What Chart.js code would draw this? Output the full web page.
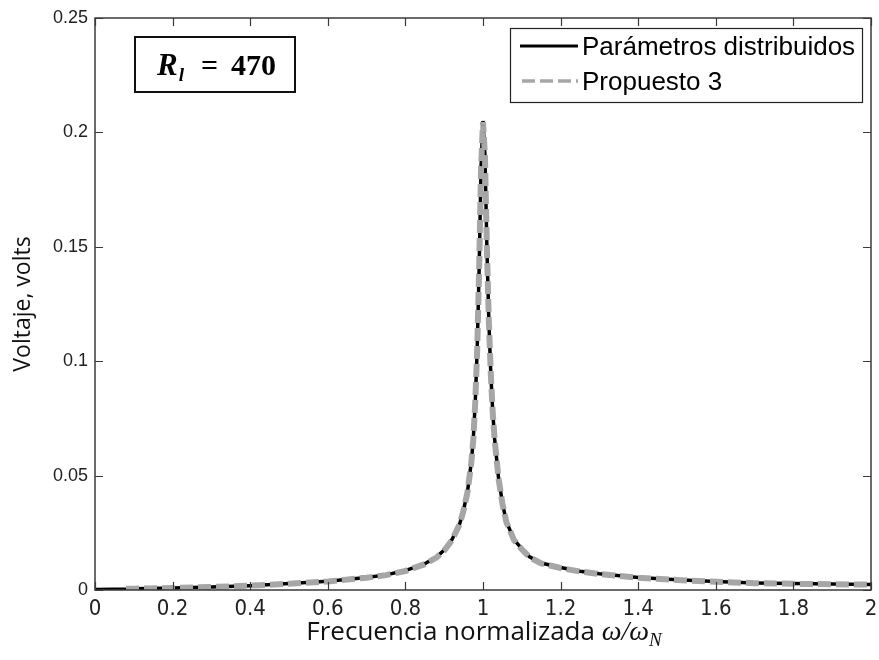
<!DOCTYPE html>
<html>
<head>
<meta charset="utf-8">
<script src="https://cdn.jsdelivr.net/npm/chart.js@4.4.1/dist/chart.umd.min.js"></script>
<style>
html,body{margin:0;padding:0;background:#fff;}
#wrap{width:879px;height:660px;}
</style>
</head>
<body>
<div id="wrap"><canvas id="c" width="879" height="660"></canvas></div>
<script>
// ---- data ----
const freq = [0, 0.05, 0.08, 0.1, 0.2, 0.3, 0.4, 0.5, 0.6, 0.7, 0.75, 0.8, 0.85, 0.88, 0.9, 0.92, 0.94, 0.95, 0.96, 0.97, 0.975, 0.98, 0.985, 0.99, 0.995, 1.0, 1.005, 1.01, 1.015, 1.02, 1.025, 1.03, 1.04, 1.05, 1.06, 1.08, 1.1, 1.12, 1.15, 1.2, 1.25, 1.3, 1.4, 1.5, 1.6, 1.7, 1.8, 1.9, 2.0];
const voltsDistribuidos = [0.0002, 0.0003, 0.0004, 0.0006, 0.0009, 0.0013, 0.0019, 0.0028, 0.0038, 0.0055, 0.0066, 0.0085, 0.0115, 0.0144, 0.0175, 0.022, 0.029, 0.035, 0.043, 0.056, 0.066, 0.082, 0.105, 0.14, 0.185, 0.205, 0.19, 0.15, 0.118, 0.095, 0.078, 0.066, 0.049, 0.038, 0.030, 0.022, 0.018, 0.0145, 0.0118, 0.0098, 0.0082, 0.0071, 0.0055, 0.0045, 0.0037, 0.0031, 0.0028, 0.0026, 0.0024];
const voltsPropuesto3 = [null, null, 0.0005, 0.0006, 0.0009, 0.0013, 0.0019, 0.0027, 0.0037, 0.0054, 0.0065, 0.0083, 0.0113, 0.0142, 0.0172, 0.0218, 0.0288, 0.0348, 0.0428, 0.0558, 0.0658, 0.0818, 0.1048, 0.1398, 0.1848, 0.2045, 0.1898, 0.1498, 0.1178, 0.0948, 0.0778, 0.0658, 0.0488, 0.0378, 0.0298, 0.0218, 0.0178, 0.0143, 0.0116, 0.0096, 0.0081, 0.0070, 0.0054, 0.0044, 0.0036, 0.0030, 0.0027, 0.0025, 0.0024];
const seriesNames = ['Parámetros distribuidos', 'Propuesto 3'];
const xTickValues = [0, 0.2, 0.4, 0.6, 0.8, 1, 1.2, 1.4, 1.6, 1.8, 2];
const xTickLabels = ['0', '0.2', '0.4', '0.6', '0.8', '1', '1.2', '1.4', '1.6', '1.8', '2'];
const yTickValues = [0, 0.05, 0.1, 0.15, 0.2, 0.25];
const yTickLabels = ['0', '0.05', '0.1', '0.15', '0.2', '0.25'];
const yTitle = 'Voltaje, volts';
const xTitleText = 'Frecuencia normalizada ';
const annotationValue = '470';

const toPts = (xs, ys) => xs.map((x, i) => ({x: x, y: ys[i]}));
function labelFor(values, labels, v) {
  for (let i = 0; i < values.length; i++) if (Math.abs(values[i] - v) < 1e-9) return labels[i];
  return '';
}

const frameColor = '#3a3a3a';
const grayColor = '#a6a6a6';

const decorPlugin = {
  id: 'decor',
  afterDatasetsDraw(chart) {
    const ctx = chart.ctx, a = chart.chartArea;
    const xs = chart.scales.x, ys = chart.scales.y;
    ctx.save();
    // frame
    ctx.strokeStyle = frameColor;
    ctx.lineWidth = 1.5;
    ctx.strokeRect(a.left, a.top, a.right - a.left, a.bottom - a.top);
    // inward ticks on all four sides
    ctx.lineWidth = 1.2;
    const tl = 8;
    ctx.beginPath();
    xs.ticks.forEach(t => {
      const px = Math.round(xs.getPixelForValue(t.value)) + 0.5;
      ctx.moveTo(px, a.bottom); ctx.lineTo(px, a.bottom - tl);
      ctx.moveTo(px, a.top); ctx.lineTo(px, a.top + tl);
    });
    ys.ticks.forEach(t => {
      const py = Math.round(ys.getPixelForValue(t.value)) + 0.5;
      ctx.moveTo(a.left, py); ctx.lineTo(a.left + tl, py);
      ctx.moveTo(a.right, py); ctx.lineTo(a.right - tl, py);
    });
    ctx.stroke();

    // legend box
    const lx = 510, ly = 28, lw = 352, lh = 74;
    ctx.fillStyle = '#fff';
    ctx.fillRect(lx, ly, lw, lh);
    ctx.strokeStyle = '#222';
    ctx.lineWidth = 1.2;
    ctx.strokeRect(lx + 0.5, ly + 0.5, lw, lh);
    const ds = chart.data.datasets;
    ctx.strokeStyle = ds[0].borderColor;
    ctx.lineWidth = 3;
    ctx.setLineDash([]);
    ctx.beginPath(); ctx.moveTo(520, 46); ctx.lineTo(578, 46); ctx.stroke();
    ctx.strokeStyle = ds[1].borderColor;
    ctx.lineWidth = 3.5;
    ctx.setLineDash([13, 5]);
    ctx.beginPath(); ctx.moveTo(522, 81); ctx.lineTo(578, 81); ctx.stroke();
    ctx.setLineDash([]);
    ctx.fillStyle = '#000';
    ctx.font = '26px "Liberation Sans", Arial, sans-serif';
    ctx.textBaseline = 'middle';
    ctx.textAlign = 'left';
    ctx.fillText(ds[0].label, 582, 48);
    ctx.fillText(ds[1].label, 582, 83);

    // R_l annotation box
    ctx.strokeStyle = '#111';
    ctx.lineWidth = 2;
    ctx.strokeRect(135, 37, 160, 55);
    ctx.textBaseline = 'alphabetic';
    ctx.font = 'bold italic 31px "Liberation Serif", "DejaVu Serif", serif';
    ctx.fillText('R', 157, 75);
    const rw = ctx.measureText('R').width;
    ctx.font = 'bold italic 19px "Liberation Serif", "DejaVu Serif", serif';
    ctx.fillText('l', 158 + rw, 81);
    ctx.font = 'bold 30px "Liberation Serif", "DejaVu Serif", serif';
    ctx.fillText('=', 201, 75);
    ctx.fillText(annotationValue, 231, 75);

    // x axis title with math part
    const f1 = '26px "Open Sans", "Noto Sans", sans-serif';
    const f2 = 'italic 28px "Liberation Serif", "DejaVu Serif", serif';
    const f3 = 'italic 19px "Liberation Serif", "DejaVu Serif", serif';
    ctx.font = f1; const w1 = ctx.measureText(xTitleText).width;
    ctx.font = f2; const w2 = ctx.measureText('ω/ω').width;
    ctx.font = f3; const w3 = ctx.measureText('N').width;
    let sx = 484 - (w1 + w2 + w3) / 2;
    const base = 640;
    ctx.fillStyle = '#111';
    ctx.font = f1; ctx.fillText(xTitleText, sx, base); sx += w1;
    ctx.font = f2; ctx.fillText('ω/ω', sx, base); sx += w2;
    ctx.font = f3; ctx.fillText('N', sx, base + 6);
    ctx.restore();
  }
};

new Chart(document.getElementById('c'), {
  type: 'line',
  data: {
    datasets: [
      {
        label: seriesNames[0],
        data: toPts(freq, voltsDistribuidos),
        borderColor: '#000',
        borderWidth: 3.5,
        pointRadius: 0,
        tension: 0,
        fill: false,
        order: 2
      },
      {
        label: seriesNames[1],
        data: toPts(freq, voltsPropuesto3),
        borderColor: grayColor,
        borderWidth: 6,
        borderDash: [13, 5],
        pointRadius: 0,
        tension: 0,
        fill: false,
        order: 1
      }
    ]
  },
  options: {
    responsive: false,
    animation: false,
    devicePixelRatio: 1,
    layout: {padding: {top: 18, right: 8, left: 0, bottom: 0}},
    plugins: {legend: {display: false}, tooltip: {enabled: false}},
    scales: {
      x: {
        type: 'linear', min: 0, max: 2,
        afterBuildTicks(s) { s.ticks = xTickValues.map(v => ({value: v})); },
        afterFit(s) { s.height = 70; s.paddingRight = 0; s.paddingLeft = 0; },
        grid: {display: false, drawTicks: false},
        border: {display: false},
        ticks: {
          padding: 6,
          color: '#222',
          font: {family: '"Liberation Sans Narrow", "DejaVu Sans Condensed", sans-serif', size: 22},
          maxRotation: 0,
          callback: v => labelFor(xTickValues, xTickLabels, v)
        }
      },
      y: {
        type: 'linear', min: 0, max: 0.25,
        afterBuildTicks(s) { s.ticks = yTickValues.map(v => ({value: v})); },
        afterFit(s) { s.width = 95; },
        grid: {display: false, drawTicks: false},
        border: {display: false},
        title: {
          display: true, text: yTitle, color: '#111',
          font: {family: '"Open Sans", "Noto Sans", sans-serif', size: 23},
          padding: {top: 10, bottom: 0}
        },
        ticks: {
          padding: 7,
          color: '#222',
          font: {family: '"Liberation Sans", Arial, sans-serif', size: 18},
          callback: v => labelFor(yTickValues, yTickLabels, v)
        }
      }
    }
  },
  plugins: [decorPlugin]
});
</script>
</body>
</html>
